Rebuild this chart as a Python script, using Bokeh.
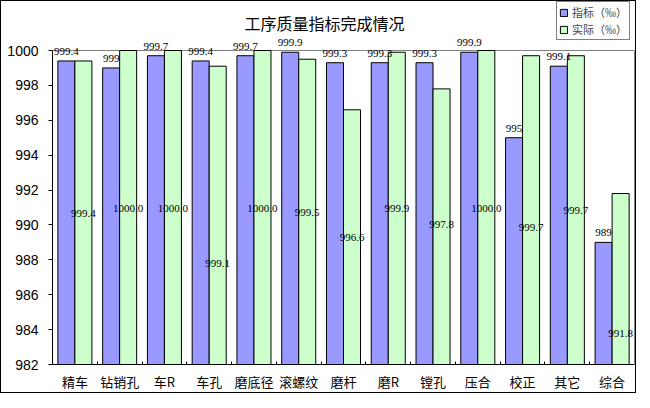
import numpy as np
from bokeh.plotting import figure
from bokeh.models import (Range1d, FixedTicker, ColumnDataSource, LabelSet, Legend,
                          LegendItem, Label, Span, LinearAxis, InlineStyleSheet)
from bokeh.embed import file_html
from bokeh.resources import INLINE

# ---- data ----
categories = ["精车", "钻销孔", "车R", "车孔", "磨底径", "滚螺纹", "磨杆",
              "磨R", "镗孔", "压合", "校正", "其它", "综合"]
target = [999.4, 999.0, 999.7, 999.4, 999.7, 999.9, 999.3,
          999.3, 999.3, 999.9, 995.0, 999.1, 989.0]
actual = [999.4, 1000.0, 1000.0, 999.1, 1000.0, 999.5, 996.6,
          999.9, 997.8, 1000.0, 999.7, 999.7, 991.8]
y_ticks = [982, 984, 986, 988, 990, 992, 994, 996, 998, 1000]
series_names = ["指标（‰）", "实际（‰）"]
title_text = "工序质量指标完成情况"

# label placement for the "actual" series (as laid out in the original chart)
actual_label_pos = [990.66, 990.96, 990.96, 987.77, 990.96, 990.72, 989.26,
                    990.94, 990.0, 990.94, 989.87, 990.8, 983.76]

# ---- layout / styling ----
BLUE = "#9999FF"
GREEN = "#CCFFCC"
GRAY = "#808080"
CJK = "Noto Sans CJK SC"
MONO = "DejaVu Sans Mono"
FRAME_LEFT = 52
FRAME_W = 582
FRAME_H = 364          # frame runs from the canvas top down to the x axis
PLOT_TOP_PX = 50       # pixel row of the value-axis maximum
TITLE_CX, TITLE_CY = 324, 22

n = len(categories)
ymin, ymax = y_ticks[0], y_ticks[-1]
px_per_unit = (FRAME_H - PLOT_TOP_PX) / (ymax - ymin)
y_top = ymax + PLOT_TOP_PX / px_per_unit
cat_px = FRAME_W / n

centers = np.arange(n) + 0.5
bw = 0.38
off = 0.19

src = ColumnDataSource(dict(
    xb=centers - off, xg=centers + off,
    target=target, actual=actual,
    tlab=[f"{v:g}" for v in target],
    alab=[f"{v:.1f}" for v in actual],
    apos=actual_label_pos,
))

p = figure(frame_width=FRAME_W, frame_height=FRAME_H, output_backend="svg",
           toolbar_location=None,
           x_range=Range1d(0, n), y_range=Range1d(ymin, y_top),
           min_border_left=FRAME_LEFT, min_border_right=2, min_border_top=0,
           min_border_bottom=0)
p.background_fill_color = "white"
p.border_fill_color = "white"
p.outline_line_color = None
p.xgrid.visible = False
p.ygrid.visible = False
# thin black border round the whole chart
p.stylesheets = [InlineStyleSheet(css=(
    ":host::after { content: ''; position: absolute; left: 0; top: 0; "
    "right: 0; bottom: 0; border: 1px solid black; pointer-events: none; "
    "z-index: 50; }"))]

# gray top edge of the plot area
p.add_layout(Span(location=ymax, dimension="width", line_color=GRAY,
                  line_width=1, level="underlay"))

rb = p.vbar(x="xb", top="target", bottom=ymin, width=bw, source=src,
            fill_color=BLUE, line_color="black", line_width=1)
rg = p.vbar(x="xg", top="actual", bottom=ymin, width=bw, source=src,
            fill_color=GREEN, line_color="black", line_width=1)

# x axis: labels at category centers, small inward ticks at boundaries
xa = p.xaxis[0]
xa.ticker = FixedTicker(ticks=list(centers), minor_ticks=list(range(1, n)))
xa.major_label_overrides = {float(c): cat for c, cat in zip(centers, categories)}
xa.major_tick_line_color = None
xa.major_tick_in = 0
xa.major_tick_out = 0
xa.minor_tick_in = 3
xa.minor_tick_out = 0
xa.minor_tick_line_color = "black"
xa.axis_line_color = "black"
xa.major_label_text_font = CJK
xa.major_label_text_font_size = "13px"
xa.major_label_text_color = "black"
xa.major_label_standoff = 7

# y axis
ya = p.yaxis[0]
ya.ticker = FixedTicker(ticks=y_ticks)
ya.bounds = (ymin, ymax)
ya.major_tick_in = 0
ya.major_tick_out = 4
ya.minor_tick_line_color = None
ya.axis_line_color = "black"
ya.major_label_text_font = "Liberation Sans"
ya.major_label_text_font_size = "14px"
ya.major_label_text_color = "black"
ya.major_label_standoff = 10

# gray right edge of the plot area
ra = LinearAxis(bounds=(ymin, ymax), ticker=FixedTicker(ticks=[]),
                axis_line_color=GRAY, major_tick_line_color=None,
                minor_tick_line_color=None, major_label_text_font_size="0px",
                major_tick_in=0, major_tick_out=0, major_label_standoff=0)
p.add_layout(ra, "right")

# data labels
lb = LabelSet(x="xb", y="target", text="tlab", source=src, text_align="center",
              text_baseline="alphabetic", y_offset=6, text_font=MONO,
              text_font_size="11px", text_color="black")
lg = LabelSet(x="xg", y="apos", text="alab", source=src, text_align="center",
              text_baseline="middle", text_font=MONO, text_font_size="11px",
              text_color="black")
p.add_layout(lb)
p.add_layout(lg)

# title
title = Label(x=(TITLE_CX - FRAME_LEFT) / cat_px,
              y=ymax + (PLOT_TOP_PX - TITLE_CY) / px_per_unit,
              text=title_text, text_align="center", text_baseline="middle",
              text_font=CJK, text_font_size="16px", text_color="black")
p.add_layout(title)

# legend
leg = Legend(items=[LegendItem(label=series_names[0], renderers=[rb]),
                    LegendItem(label=series_names[1], renderers=[rg])],
             location=(FRAME_W - 78, FRAME_H - 40), orientation="vertical",
             border_line_color="black", border_line_width=1,
             background_fill_color="white", background_fill_alpha=1,
             label_text_font=CJK, label_text_font_size="11px",
             glyph_width=9, glyph_height=9, label_height=12, label_standoff=4,
             padding=2, spacing=1, margin=0)
p.add_layout(leg, "center")

open("out.html", "w").write(file_html(p, INLINE))
